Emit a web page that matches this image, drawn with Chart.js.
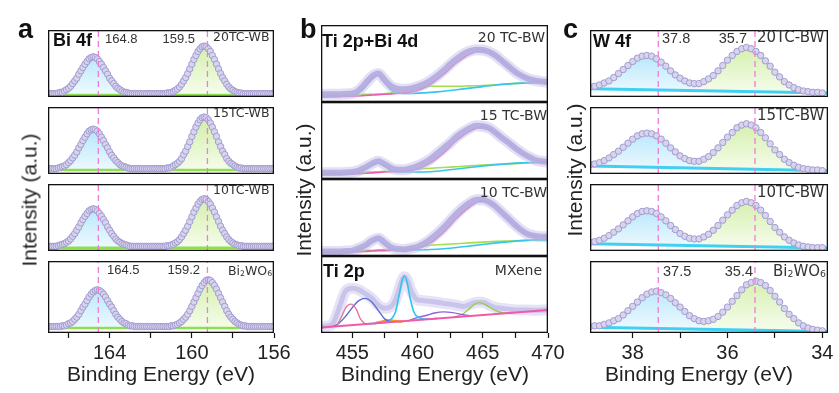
<!DOCTYPE html>
<html>
<head>
<meta charset="utf-8">
<title>XPS spectra</title>
<script src="https://cdn.jsdelivr.net/npm/chart.js@4.4.1/dist/chart.umd.min.js"></script>
<style>
    body { margin: 0; background: #fff; }
    #fig { position: relative; width: 839px; height: 393px; overflow: hidden;
           font-family: 'Liberation Sans', Arial, sans-serif; color: #222; }
    #fig canvas { position: absolute; z-index: 1; }
    .t { position: absolute; white-space: nowrap; line-height: 1; z-index: 2; }
    .num { font-size: 13px; color: #333; }
    .smp { font-family: 'DejaVu Sans', sans-serif; color: #333; }
    .bold { font-weight: bold; font-size: 18px; color: #111; }
    .letter { font-weight: bold; font-size: 27px; color: #111; }
    .xt { font-size: 21px; top: 363px; transform: translateX(-50%); }
    .yt { font-size: 21px; transform: translate(-50%, -50%) rotate(-90deg); }
    sub { font-size: 0.62em; vertical-align: -0.12em; line-height: 0; }
</style>
</head>
<body>
<div id="fig">
    <!-- panel letters -->
    <div class="t letter" style="left:18px;top:16px">a</div>
    <div class="t letter" style="left:300px;top:16px">b</div>
    <div class="t letter" style="left:563px;top:16px">c</div>

    <!-- panel a labels -->
    <div class="t bold" style="left:53px;top:31px">Bi 4f</div>
    <div class="t num" style="left:105px;top:31.5px">164.8</div>
    <div class="t num" style="right:644px;top:31.5px">159.5</div>
    <div class="t smp" style="left:213px;top:30.5px;font-size:12.5px">20TC-WB</div>
    <div class="t smp" style="left:213px;top:106.5px;font-size:12.5px">15TC-WB</div>
    <div class="t smp" style="left:213px;top:184px;font-size:12.5px">10TC-WB</div>
    <div class="t num" style="left:107px;top:262.5px">164.5</div>
    <div class="t num" style="right:639px;top:262.5px">159.2</div>
    <div class="t smp" style="left:228px;top:265px;font-size:12.5px">Bi<sub>2</sub>WO<sub>6</sub></div>

    <!-- panel b labels -->
    <div class="t bold" style="left:322px;top:31.5px">Ti 2p+Bi 4d</div>
    <div class="t smp" style="right:294px;top:29.5px;font-size:14px">20 TC-BW</div>
    <div class="t smp" style="right:292px;top:107.5px;font-size:14px">15 TC-BW</div>
    <div class="t smp" style="right:292px;top:184.5px;font-size:14px">10 TC-BW</div>
    <div class="t bold" style="left:323px;top:261.5px">Ti 2p</div>
    <div class="t smp" style="right:297px;top:262.5px;font-size:14px">MXene</div>

    <!-- panel c labels -->
    <div class="t bold" style="left:593px;top:32px">W 4f</div>
    <div class="t num" style="left:662px;top:31px;font-size:14.5px">37.8</div>
    <div class="t num" style="right:92px;top:31px;font-size:14.5px">35.7</div>
    <div class="t smp" style="left:757px;top:29.5px;font-size:15px">20TC-BW</div>
    <div class="t smp" style="left:757px;top:108px;font-size:15px">15TC-BW</div>
    <div class="t smp" style="left:757px;top:184.5px;font-size:15px">10TC-BW</div>
    <div class="t num" style="left:663px;top:264px;font-size:14.5px">37.5</div>
    <div class="t num" style="right:86px;top:264px;font-size:14.5px">35.4</div>
    <div class="t smp" style="left:773px;top:264px;font-size:15px">Bi<sub>2</sub>WO<sub>6</sub></div>

    <!-- axis titles -->
    <div class="t xt" style="left:161px">Binding Energy (eV)</div>
    <div class="t xt" style="left:435px">Binding Energy (eV)</div>
    <div class="t xt" style="left:699px">Binding Energy (eV)</div>
    <div class="t yt" style="left:29px;top:200px">Intensity (a.u.)</div>
    <div class="t yt" style="left:303px;top:190px">Intensity (a.u.)</div>
    <div class="t yt" style="left:574px;top:170px">Intensity (a.u.)</div>
</div>
<script>
/**
 * XPS figure: (a) Bi 4f, (b) Ti 2p + Bi 4d, (c) W 4f
 * Intensities are normalised to each sub-plot height (0..1)
 */

// ---------- panel a : Bi 4f ----------
const energyA = [
    167.0, 166.9, 166.8, 166.7, 166.6, 166.5, 166.4, 166.3, 166.2, 166.1,
    166.0, 165.9, 165.8, 165.7, 165.6, 165.5, 165.4, 165.3, 165.2, 165.1,
    165.0, 164.9, 164.8, 164.7, 164.6, 164.5, 164.4, 164.3, 164.2, 164.1,
    164.0, 163.9, 163.8, 163.7, 163.6, 163.5, 163.4, 163.3, 163.2, 163.1,
    163.0, 162.9, 162.8, 162.7, 162.6, 162.5, 162.4, 162.3, 162.2, 162.1,
    162.0, 161.9, 161.8, 161.7, 161.6, 161.5, 161.4, 161.3, 161.2, 161.1,
    161.0, 160.9, 160.8, 160.7, 160.6, 160.5, 160.4, 160.3, 160.2, 160.1,
    160.0, 159.9, 159.8, 159.7, 159.6, 159.5, 159.4, 159.3, 159.2, 159.1,
    159.0, 158.9, 158.8, 158.7, 158.6, 158.5, 158.4, 158.3, 158.2, 158.1,
    158.0, 157.9, 157.8, 157.7, 157.6, 157.5, 157.4, 157.3, 157.2, 157.1,
    157.0, 156.9, 156.8, 156.7, 156.6, 156.5, 156.4, 156.3, 156.2, 156.1,
    156.0
];
const a20 = [
    0.05, 0.05, 0.05, 0.05, 0.05, 0.06, 0.07, 0.07, 0.09, 0.11,
    0.13, 0.16, 0.20, 0.24, 0.28, 0.34, 0.39, 0.44, 0.49, 0.53,
    0.57, 0.59, 0.60, 0.59, 0.57, 0.53, 0.49, 0.44, 0.39, 0.34,
    0.28, 0.24, 0.20, 0.16, 0.13, 0.11, 0.09, 0.07, 0.07, 0.06,
    0.05, 0.05, 0.05, 0.05, 0.05, 0.05, 0.05, 0.05, 0.05, 0.05,
    0.05, 0.05, 0.05, 0.05, 0.05, 0.05, 0.05, 0.05, 0.06, 0.06,
    0.07, 0.08, 0.10, 0.12, 0.15, 0.19, 0.24, 0.29, 0.35, 0.42,
    0.49, 0.56, 0.62, 0.68, 0.72, 0.75, 0.76, 0.75, 0.72, 0.68,
    0.62, 0.56, 0.49, 0.42, 0.35, 0.29, 0.24, 0.19, 0.15, 0.12,
    0.10, 0.08, 0.07, 0.06, 0.06, 0.05, 0.05, 0.05, 0.05, 0.05,
    0.05, 0.05, 0.05, 0.05, 0.05, 0.05, 0.05, 0.05, 0.05, 0.05,
    0.05
];
const a15 = [
    0.08, 0.08, 0.08, 0.08, 0.08, 0.09, 0.10, 0.11, 0.12, 0.14,
    0.17, 0.20, 0.24, 0.28, 0.33, 0.39, 0.44, 0.50, 0.55, 0.60,
    0.64, 0.66, 0.67, 0.66, 0.64, 0.60, 0.55, 0.50, 0.44, 0.39,
    0.33, 0.28, 0.24, 0.20, 0.17, 0.14, 0.12, 0.11, 0.10, 0.09,
    0.08, 0.08, 0.08, 0.08, 0.08, 0.08, 0.08, 0.08, 0.08, 0.08,
    0.08, 0.08, 0.08, 0.08, 0.08, 0.08, 0.08, 0.08, 0.09, 0.09,
    0.10, 0.12, 0.14, 0.16, 0.19, 0.23, 0.29, 0.34, 0.41, 0.48,
    0.56, 0.63, 0.70, 0.76, 0.81, 0.84, 0.85, 0.84, 0.81, 0.76,
    0.70, 0.63, 0.56, 0.48, 0.41, 0.34, 0.29, 0.23, 0.19, 0.16,
    0.14, 0.12, 0.10, 0.09, 0.09, 0.08, 0.08, 0.08, 0.08, 0.08,
    0.08, 0.08, 0.08, 0.08, 0.08, 0.08, 0.08, 0.08, 0.08, 0.08,
    0.08
];
const a10 = [
    0.07, 0.07, 0.07, 0.07, 0.07, 0.08, 0.09, 0.10, 0.11, 0.13,
    0.15, 0.18, 0.22, 0.26, 0.31, 0.36, 0.42, 0.47, 0.52, 0.56,
    0.60, 0.62, 0.63, 0.62, 0.60, 0.56, 0.52, 0.47, 0.42, 0.36,
    0.31, 0.26, 0.22, 0.18, 0.15, 0.13, 0.11, 0.10, 0.09, 0.08,
    0.07, 0.07, 0.07, 0.07, 0.07, 0.07, 0.07, 0.07, 0.07, 0.07,
    0.07, 0.07, 0.07, 0.07, 0.07, 0.07, 0.07, 0.07, 0.08, 0.08,
    0.09, 0.10, 0.12, 0.14, 0.17, 0.21, 0.26, 0.31, 0.37, 0.44,
    0.51, 0.58, 0.64, 0.70, 0.74, 0.77, 0.78, 0.77, 0.74, 0.70,
    0.64, 0.58, 0.51, 0.44, 0.37, 0.31, 0.26, 0.21, 0.17, 0.14,
    0.12, 0.10, 0.09, 0.08, 0.08, 0.07, 0.07, 0.07, 0.07, 0.07,
    0.07, 0.07, 0.07, 0.07, 0.07, 0.07, 0.07, 0.07, 0.07, 0.07,
    0.07
];
const aBW = [
    0.09, 0.09, 0.09, 0.09, 0.09, 0.09, 0.09, 0.10, 0.10, 0.11,
    0.13, 0.14, 0.16, 0.19, 0.22, 0.26, 0.31, 0.36, 0.40, 0.45,
    0.50, 0.54, 0.57, 0.59, 0.60, 0.59, 0.57, 0.54, 0.50, 0.45,
    0.40, 0.36, 0.31, 0.26, 0.22, 0.19, 0.16, 0.14, 0.13, 0.11,
    0.10, 0.10, 0.09, 0.09, 0.09, 0.09, 0.09, 0.09, 0.09, 0.09,
    0.09, 0.09, 0.09, 0.09, 0.09, 0.09, 0.09, 0.09, 0.09, 0.09,
    0.10, 0.10, 0.11, 0.12, 0.14, 0.16, 0.19, 0.22, 0.26, 0.31,
    0.37, 0.43, 0.49, 0.55, 0.61, 0.66, 0.70, 0.73, 0.74, 0.73,
    0.70, 0.66, 0.61, 0.55, 0.49, 0.43, 0.37, 0.31, 0.26, 0.22,
    0.19, 0.16, 0.14, 0.12, 0.11, 0.10, 0.10, 0.09, 0.09, 0.09,
    0.09, 0.09, 0.09, 0.09, 0.09, 0.09, 0.09, 0.09, 0.09, 0.09,
    0.09
];
const baseA = [0.03, 0.06, 0.05, 0.07];           // green background level per row
const greenLineX = [166.4, 162.8, 162.0, 161.4, 157.4];  // background segments (gap at 162.0)
const markA = [164.55, 159.24];                    // pink dashed guide lines

// ---------- panel b : Ti 2p + Bi 4d ----------
const energyB = [
    452.5, 453.0, 453.5, 454.0, 454.5, 455.0, 455.5, 456.0, 456.5, 457.0,
    457.5, 458.0, 458.5, 459.0, 459.5, 460.0, 460.5, 461.0, 461.5, 462.0,
    462.5, 463.0, 463.5, 464.0, 464.5, 465.0, 465.5, 466.0, 466.5, 467.0,
    467.5, 468.0, 468.5, 469.0, 469.5, 470.0
];
const b20 = [0.10, 0.10, 0.10, 0.10, 0.105, 0.11, 0.15, 0.24, 0.33, 0.37,
             0.28, 0.20, 0.17, 0.165, 0.175, 0.20, 0.23, 0.28, 0.34, 0.41,
             0.49, 0.56, 0.62, 0.66, 0.68, 0.675, 0.65, 0.60, 0.53, 0.46,
             0.39, 0.34, 0.30, 0.28, 0.265, 0.26];
const b15 = [0.08, 0.08, 0.08, 0.08, 0.085, 0.09, 0.11, 0.15, 0.20, 0.23,
             0.19, 0.14, 0.12, 0.12, 0.14, 0.17, 0.21, 0.26, 0.33, 0.40,
             0.47, 0.55, 0.61, 0.66, 0.69, 0.685, 0.66, 0.60, 0.53, 0.47,
             0.40, 0.34, 0.29, 0.25, 0.23, 0.22];
const b10 = [0.06, 0.06, 0.06, 0.06, 0.065, 0.07, 0.10, 0.14, 0.20, 0.23,
             0.17, 0.11, 0.09, 0.085, 0.10, 0.12, 0.16, 0.22, 0.29, 0.37,
             0.46, 0.55, 0.63, 0.69, 0.73, 0.73, 0.70, 0.64, 0.56, 0.48,
             0.40, 0.33, 0.28, 0.26, 0.25, 0.25];

// fitted components (coarser grid)
const energyBc = [452.5, 454, 455, 455.5, 456, 456.5, 457, 457.5, 458, 459,
                  460, 461, 462, 463, 464, 465, 466, 467, 468, 469, 470];
const pink20 = [0.065, 0.07, 0.075, 0.08, 0.085, 0.09, 0.095, 0.10, 0.105, 0.12,
                0.15, 0.23, 0.36, 0.51, 0.62, 0.665, 0.60, 0.46, 0.34, 0.28, 0.26];
const cyan20 = [0.075, 0.08, 0.09, 0.13, 0.20, 0.30, 0.35, 0.25, 0.15, 0.11,
                0.115, 0.125, 0.14, 0.16, 0.18, 0.20, 0.22, 0.235, 0.245, 0.25, 0.255];
const green20 = [0.085, 0.09, 0.095, 0.095, 0.10, 0.10, 0.105, 0.11, 0.12, 0.15,
                 0.18, 0.205, 0.205, 0.205, 0.21, 0.215, 0.225, 0.235, 0.245, 0.25, 0.26];
const pink15 = [0.055, 0.06, 0.065, 0.07, 0.075, 0.08, 0.085, 0.09, 0.095, 0.105,
                0.13, 0.21, 0.34, 0.50, 0.62, 0.68, 0.60, 0.47, 0.34, 0.25, 0.22];
const cyan15 = [0.065, 0.07, 0.075, 0.10, 0.13, 0.18, 0.21, 0.17, 0.11, 0.09,
                0.09, 0.095, 0.11, 0.13, 0.15, 0.17, 0.185, 0.20, 0.21, 0.215, 0.22];
const green15 = [0.075, 0.08, 0.085, 0.085, 0.09, 0.09, 0.095, 0.10, 0.105, 0.12,
                 0.13, 0.14, 0.15, 0.16, 0.17, 0.18, 0.19, 0.195, 0.205, 0.21, 0.22];
const pink10 = [0.04, 0.045, 0.05, 0.055, 0.06, 0.065, 0.07, 0.07, 0.075, 0.085,
                0.10, 0.17, 0.31, 0.49, 0.64, 0.72, 0.64, 0.48, 0.33, 0.26, 0.25];
const cyan10 = [0.05, 0.055, 0.06, 0.09, 0.12, 0.18, 0.21, 0.15, 0.10, 0.08,
                0.08, 0.085, 0.095, 0.11, 0.13, 0.15, 0.17, 0.185, 0.20, 0.21, 0.21];
const green10 = [0.06, 0.065, 0.07, 0.07, 0.075, 0.075, 0.08, 0.085, 0.09, 0.10,
                 0.12, 0.14, 0.15, 0.16, 0.17, 0.18, 0.19, 0.195, 0.20, 0.205, 0.21];

// MXene (Ti 2p)
const mxE = [452.5, 453, 453.5, 454, 454.5, 455, 455.5, 456, 456.5, 457,
             457.5, 458, 458.25, 458.5, 458.75, 459, 459.25, 459.5, 460, 460.5,
             461, 461.5, 462, 462.5, 463, 463.5, 464, 464.5, 465, 465.5,
             466, 466.5, 467, 467.5, 468, 469, 470];
const mxData = [0.085, 0.09, 0.12, 0.33, 0.55, 0.58, 0.56, 0.51, 0.45, 0.36,
                0.32, 0.35, 0.41, 0.52, 0.66, 0.73, 0.67, 0.55, 0.43, 0.42,
                0.41, 0.40, 0.385, 0.375, 0.36, 0.345, 0.37, 0.40, 0.40, 0.36,
                0.33, 0.32, 0.31, 0.30, 0.30, 0.295, 0.30];
const mxBaseE = [452.5, 470];
const mxBase = [0.07, 0.30];
const mxPinkE = [453.8, 454.2, 454.5, 454.9, 455.3, 455.6, 456.0];
const mxPink = [0.088, 0.22, 0.33, 0.375, 0.31, 0.19, 0.116];
const mxBlueE = [453.5, 454.0, 454.5, 455.0, 455.5, 456.0, 456.5, 457.0, 457.5, 458.0];
const mxBlue = [0.083, 0.13, 0.22, 0.33, 0.42, 0.45, 0.40, 0.29, 0.18, 0.142];
const mxCyanE = [456.0, 457.0, 457.8, 458.3, 458.6, 458.8, 459.0, 459.2, 459.4, 459.7, 460.1, 460.8, 461.5];
const mxCyan = [0.116, 0.13, 0.16, 0.27, 0.50, 0.67, 0.74, 0.66, 0.48, 0.28, 0.20, 0.18, 0.19];
const mxOrangeE = [456.8, 457.3, 457.8, 458.3, 458.8];
const mxOrange = [0.128, 0.15, 0.165, 0.155, 0.148];
const mxPurpleE = [459.3, 460.0, 460.7, 461.3, 462.0, 462.7, 463.4, 464.1];
const mxPurple = [0.157, 0.20, 0.23, 0.26, 0.275, 0.265, 0.24, 0.224];
const mxGreenE = [462.8, 463.5, 464.0, 464.4, 464.7, 465.0, 465.5, 466.0, 466.6, 467.4];
const mxGreen = [0.205, 0.25, 0.32, 0.375, 0.395, 0.385, 0.34, 0.29, 0.262, 0.265];

// ---------- panel c : W 4f ----------
const energyC = [
    38.9, 38.8, 38.7, 38.6, 38.5, 38.4, 38.3, 38.2, 38.1, 38.0,
    37.9, 37.8, 37.7, 37.6, 37.5, 37.4, 37.3, 37.2, 37.1, 37.0,
    36.9, 36.8, 36.7, 36.6, 36.5, 36.4, 36.3, 36.2, 36.1, 36.0,
    35.9, 35.8, 35.7, 35.6, 35.5, 35.4, 35.3, 35.2, 35.1, 35.0,
    34.9, 34.8, 34.7, 34.6, 34.5, 34.4, 34.3, 34.2, 34.1, 34.0
];
const c20 = [
    0.15, 0.16, 0.18, 0.21, 0.24, 0.29, 0.35, 0.41, 0.47, 0.53,
    0.58, 0.61, 0.62, 0.61, 0.57, 0.52, 0.46, 0.39, 0.33, 0.28,
    0.24, 0.21, 0.20, 0.20, 0.23, 0.27, 0.32, 0.39, 0.47, 0.55,
    0.62, 0.68, 0.72, 0.74, 0.72, 0.68, 0.62, 0.54, 0.46, 0.37,
    0.30, 0.23, 0.18, 0.14, 0.11, 0.09, 0.08, 0.07, 0.07, 0.06
];
const c15 = [
    0.14, 0.15, 0.17, 0.20, 0.24, 0.29, 0.34, 0.40, 0.46, 0.52,
    0.57, 0.60, 0.61, 0.60, 0.57, 0.52, 0.46, 0.39, 0.33, 0.27,
    0.23, 0.20, 0.19, 0.19, 0.22, 0.26, 0.32, 0.39, 0.47, 0.55,
    0.62, 0.69, 0.73, 0.75, 0.73, 0.69, 0.62, 0.54, 0.45, 0.36,
    0.29, 0.22, 0.17, 0.13, 0.10, 0.08, 0.07, 0.06, 0.06, 0.05
];
const c10 = [
    0.13, 0.14, 0.16, 0.19, 0.23, 0.28, 0.33, 0.39, 0.45, 0.51,
    0.56, 0.59, 0.60, 0.59, 0.56, 0.51, 0.45, 0.38, 0.32, 0.26,
    0.22, 0.19, 0.18, 0.18, 0.21, 0.25, 0.31, 0.38, 0.46, 0.54,
    0.61, 0.68, 0.72, 0.74, 0.72, 0.68, 0.61, 0.53, 0.44, 0.35,
    0.28, 0.21, 0.16, 0.12, 0.09, 0.07, 0.06, 0.05, 0.05, 0.05
];
const cBW = [
    0.09, 0.10, 0.10, 0.12, 0.14, 0.17, 0.20, 0.25, 0.31, 0.37,
    0.43, 0.49, 0.54, 0.57, 0.58, 0.56, 0.53, 0.48, 0.42, 0.36,
    0.30, 0.24, 0.20, 0.17, 0.16, 0.17, 0.19, 0.23, 0.29, 0.36,
    0.44, 0.52, 0.60, 0.67, 0.70, 0.72, 0.70, 0.66, 0.59, 0.51,
    0.43, 0.34, 0.26, 0.20, 0.14, 0.10, 0.07, 0.05, 0.04, 0.03
];
const baseCX = [38.9, 33.88];
const baseC20 = [0.125, 0.06];
const baseC15 = [0.12, 0.05];
const baseC10 = [0.11, 0.045];
const baseCBW = [0.08, 0.02];
const markC = [37.46, 35.42];

// ---------- layout ----------
const PAD = 26;
const ROW_TOP = [25, 102, 179, 256];
const ROW_H = 77;
const AXIS_H = 60;
const FONT = "'Liberation Sans', Arial, sans-serif";

const BLUE = { top: '#94dcf8', bottom: '#f3fbff', line: '#8ea6cc' };
const GREEN = { top: '#c9ec98', bottom: '#f8fdf0', line: '#a3d96a' };

// Sub-plot frame
const framePlugin = {
    id: 'frame',
    afterDraw(chart) {
        const { ctx, chartArea: a } = chart;
        ctx.save();
        ctx.strokeStyle = '#111';
        ctx.lineWidth = 1.3;
        ctx.strokeRect(a.left + 0.65, a.top + 0.65, a.right - a.left - 1.3, a.bottom - a.top - 1.3);
        ctx.restore();
    }
};

function xy(xs, ys) {
    return xs.map((x, i) => ({ x: x, y: ys[i] }));
}

function gradient(chart, colors) {
    const area = chart.chartArea;
    if (!area) return colors.top;
    const g = chart.ctx.createLinearGradient(0, area.top, 0, area.bottom);
    g.addColorStop(0, colors.top);
    g.addColorStop(1, colors.bottom);
    return g;
}

function circles(xs, ys) {
    return {
        data: xy(xs, ys), showLine: false, clip: 0, order: 0,
        pointRadius: 3.2, pointBorderWidth: 1,
        pointBackgroundColor: '#d7d4ee', pointBorderColor: '#a39cd0'
    };
}

function dashed(x) {
    return {
        data: [{ x: x, y: 0 }, { x: x, y: 1 }], clip: 0, order: -1,
        borderColor: '#f27ad8', borderWidth: 1.3, borderDash: [6, 4]
    };
}

function peakFill(xs, ys, from, to, colors, fill) {
    return {
        data: xy(xs.slice(from, to), ys.slice(from, to)), clip: 0, order: 5,
        borderColor: colors.line, borderWidth: 1,
        backgroundColor: (ctx) => gradient(ctx.chart, colors),
        fill: fill
    };
}

function curve(xs, ys, color, width, order) {
    return {
        data: xy(xs, ys), clip: 0, order: order,
        borderColor: color, borderWidth: width,
        cubicInterpolationMode: 'monotone', borderCapStyle: 'round'
    };
}

function makeCanvas(left, width, row) {
    const c = document.createElement('canvas');
    c.width = width + 2 * PAD;
    c.height = ROW_H + (row === 3 ? AXIS_H : 0);
    c.style.left = (left - PAD) + 'px';
    c.style.top = ROW_TOP[row] + 'px';
    document.getElementById('fig').appendChild(c);
    return c;
}

/**
 * Build one stacked sub-plot
 */
function makeChart(canvas, datasets, axis, showAxis) {
    return new Chart(canvas, {
        type: 'line',
        data: { datasets: datasets },
        options: {
            responsive: false,
            animation: false,
            events: [],
            layout: { padding: { left: PAD, right: PAD, top: 0, bottom: 0 } },
            plugins: { legend: { display: false }, tooltip: { enabled: false } },
            elements: { point: { radius: 0 }, line: { tension: 0 } },
            scales: {
                x: {
                    type: 'linear',
                    min: axis.min,
                    max: axis.max,
                    reverse: axis.reverse,
                    display: showAxis,
                    border: { display: false },
                    grid: {
                        display: true, drawOnChartArea: false, drawTicks: true,
                        tickLength: 5, tickColor: '#111', tickWidth: 1.2
                    },
                    ticks: {
                        stepSize: axis.step,
                        includeBounds: false,
                        autoSkip: false,
                        maxRotation: 0,
                        padding: 3,
                        color: '#222',
                        font: { family: FONT, size: 20 },
                        callback: (v) => Math.abs(v % axis.labelStep) < 1e-6 ? String(v) : ''
                    },
                    afterFit: (scale) => { if (showAxis) scale.height = AXIS_H; }
                },
                y: { display: false, min: 0, max: 1 }
            }
        },
        plugins: [framePlugin]
    });
}

// ---------- panel a ----------
const axisA = { min: 156, max: 167, reverse: true, step: 2, labelStep: 4 };
[a20, a15, a10, aBW].forEach((ys, row) => {
    const base = baseA[row];
    const lineY = greenLineX.map((x, i) => (i === 2 ? null : base));
    const datasets = [
        circles(energyA, ys),
        dashed(markA[0]),
        dashed(markA[1]),
        peakFill(energyA, ys, 0, 51, BLUE, { value: base }),
        peakFill(energyA, ys, 50, 111, GREEN, { value: base }),
        { data: xy(greenLineX, lineY), clip: 0, order: 4, borderColor: '#8fe04e', borderWidth: 2.5, spanGaps: false }
    ];
    makeChart(makeCanvas(48, 226, row), datasets, axisA, row === 3);
});

// ---------- panel b ----------
// measured envelope drawn as a soft thick band over the fitted components
const axisB = { min: 452.6, max: 470, reverse: false, step: 2.5, labelStep: 5 };
const bData = [b20, b15, b10];
const bPink = [pink20, pink15, pink10];
const bCyan = [cyan20, cyan15, cyan10];
const bGreen = [green20, green15, green10];
bData.forEach((ys, row) => {
    const datasets = [
        curve(energyB, ys, 'rgba(200,194,236,0.5)', 11, 2),
        curve(energyB, ys, 'rgba(180,172,224,0.9)', 6, 1),
        curve(energyBc, bGreen[row], '#9fe04c', 1.6, 5),
        curve(energyBc, bCyan[row], '#36c5ef', 1.6, 4),
        curve(energyBc, bPink[row], '#e65cb6', 1.6, 3)
    ];
    makeChart(makeCanvas(321, 227, row), datasets, axisB, false);
});
makeChart(makeCanvas(321, 227, 3), [
    curve(mxE, mxData, 'rgba(200,194,236,0.45)', 11, 11),
    curve(mxE, mxData, 'rgba(182,175,226,0.6)', 5, 10),
    curve(mxBaseE, mxBase, '#f25aa8', 2, 1),
    curve(mxPinkE, mxPink, '#e4789a', 1.4, 2),
    curve(mxBlueE, mxBlue, '#5a6cd4', 1.4, 2),
    curve(mxCyanE, mxCyan, '#2ec4f0', 1.6, 2),
    curve(mxOrangeE, mxOrange, '#f2a020', 2.5, 2),
    curve(mxPurpleE, mxPurple, '#8b63d6', 1.4, 2),
    curve(mxGreenE, mxGreen, '#96d248', 1.4, 2)
], axisB, true);

// ---------- panel c ----------
const axisC = { min: 33.88, max: 38.9, reverse: true, step: 1, labelStep: 2 };
const cData = [c20, c15, c10, cBW];
const cBase = [baseC20, baseC15, baseC10, baseCBW];
cData.forEach((ys, row) => {
    const datasets = [
        circles(energyC, ys),
        dashed(markC[0]),
        dashed(markC[1]),
        { data: xy(baseCX, cBase[row]), clip: 0, order: 4, borderColor: '#3fd0f2', borderWidth: 3 },
        peakFill(energyC, ys, 0, 24, BLUE, 3),
        peakFill(energyC, ys, 23, 50, GREEN, 3)
    ];
    makeChart(makeCanvas(590, 238, row), datasets, axisC, row === 3);
});
</script>
</body>
</html>
